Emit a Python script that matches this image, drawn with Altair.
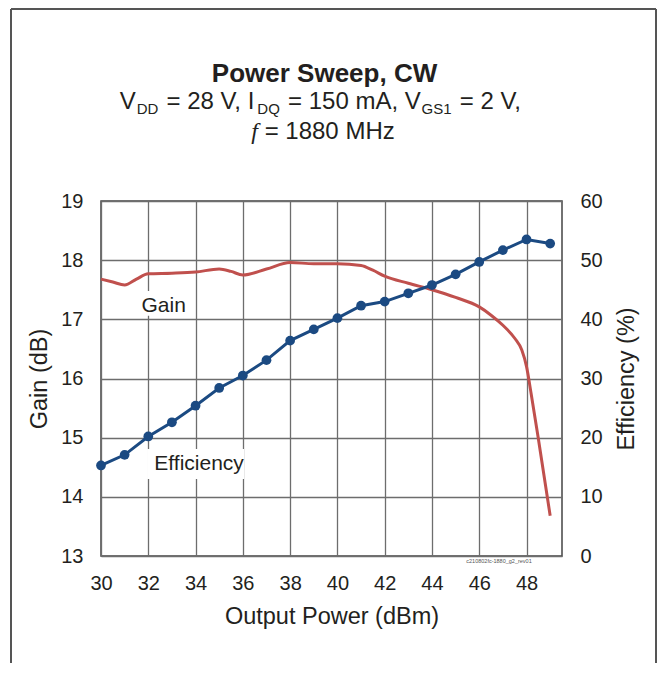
import altair as alt
import pandas as pd

# ---------------- data ----------------
power_eff = [30, 31, 32, 33, 34, 35, 36, 37, 38, 39, 40, 41, 42, 43, 44, 45, 46, 47, 48, 49]
efficiency = [15.3, 17.1, 20.2, 22.6, 25.4, 28.4, 30.5, 33.1, 36.4, 38.3, 40.2, 42.3, 43.0,
              44.4, 45.8, 47.6, 49.7, 51.7, 53.5, 52.8]

power_gain = [30, 30.5, 31, 31.5, 32, 33, 34, 35, 35.5, 36, 37, 38, 39, 40, 41, 41.5, 42, 43,
              44, 45, 46, 46.5, 47, 47.5, 47.8, 48, 48.2, 48.5, 49]
gain = [17.68, 17.63, 17.58, 17.68, 17.77, 17.78, 17.80, 17.85, 17.81, 17.75, 17.85, 17.96,
        17.94, 17.94, 17.91, 17.83, 17.73, 17.61, 17.50, 17.37, 17.21, 17.07, 16.90, 16.68,
        16.48, 16.20, 15.73, 14.98, 13.68]

x_ticks = [30, 32, 34, 36, 38, 40, 42, 44, 46, 48]
gain_ticks = [13, 14, 15, 16, 17, 18, 19]
eff_ticks = [0, 10, 20, 30, 40, 50, 60]

series_labels = ["Gain", "Efficiency"]
label_x = [32.65, 34.15]
label_gain = [17.13, 14.45]
box_x1 = [31.9, 31.95]
box_x2 = [33.4, 36.05]
box_g1 = [17.06, 14.30]
box_g2 = [17.48, 14.81]

title = "Power Sweep, CW"
subtitle_parts = [("V", "main"), ("DD", "sub"), (" = 28 V, I", "main"), ("DQ", "sub"),
                  (" = 150 mA, V", "main"), ("GS1", "sub"), (" = 2 V,", "main")]
freq_symbol = "f"
freq_text = "= 1880 MHz"
watermark = "c210802fc-1880_g2_rev01"

# ---------------- style ----------------
FONT = "Liberation Sans, Arial, Helvetica, sans-serif"
TXT = "#231f20"
RED = "#c0504d"
BLUE = "#1b4a82"
W, H = 461, 355
MAIN, SUB = 24, 15
SUB_PRE, SUB_POST = 0.8, 1.5

# Arial / Liberation Sans advance widths (1/1000 em)
AW = {'V': 667, 'D': 722, 'I': 278, 'Q': 778, 'G': 778, 'S': 667, '1': 556, '2': 556,
      '5': 556, '8': 556, '0': 556, ' ': 278, '=': 584, ',': 278, 'm': 833, 'A': 667,
      'M': 833, 'H': 722, 'z': 500}


def tw(s, size):
    return sum(AW.get(c, 556) for c in s) * size / 1000.0


def txt(s, x, y, size, align="left", **kw):
    params = dict(text=s, fontSize=size, align=align, baseline="alphabetic",
                  font=FONT, color=TXT)
    params.update(kw)
    return alt.Chart(alt.Data(values=[{}])).mark_text(**params).encode(
        x=alt.value(x), y=alt.value(y))


X = alt.X("x:Q", title="Output Power (dBm)",
          scale=alt.Scale(domain=[30, 49.5], nice=False, zero=False),
          axis=alt.Axis(values=x_ticks, grid=True, labelPadding=17, titlePadding=11,
                        labelFontSize=20, titleFontSize=23.5, labelFlush=False))

gain_df = pd.DataFrame({"x": power_gain, "gain": gain})
eff_df = pd.DataFrame({"x": power_eff, "eff": efficiency})
lab_df = pd.DataFrame({"x": label_x, "gain": label_gain, "t": series_labels})
box_df = pd.DataFrame({"x": box_x1, "x2": box_x2, "g1": box_g1, "g2": box_g2})

gscale = alt.Scale(domain=[13, 19], nice=False, zero=False)

boxes = alt.Chart(box_df).mark_rect(color="white").encode(
    x=X, x2="x2:Q",
    y=alt.Y("g1:Q", scale=gscale, axis=None), y2="g2:Q")

gain_line = alt.Chart(gain_df).mark_line(color=RED, strokeWidth=3, interpolate="monotone").encode(
    x=X,
    y=alt.Y("gain:Q", title="Gain (dB)", scale=gscale,
            axis=alt.Axis(values=gain_ticks, grid=True, labelPadding=18, titlePadding=9,
                          labelFontSize=20, titleFontSize=23.5, labelFlush=False)))

eff_line = alt.Chart(eff_df).mark_line(
    color=BLUE, strokeWidth=3,
    point=alt.OverlayMarkDef(color=BLUE, size=95, filled=True, opacity=1)).encode(
    x=X,
    y=alt.Y("eff:Q", title="Efficiency (%)",
            scale=alt.Scale(domain=[0, 60], nice=False, zero=False),
            axis=alt.Axis(values=eff_ticks, orient="right", grid=False, labelPadding=18,
                          titlePadding=12, titleAngle=270, titleBaseline="top",
                          labelFontSize=20, titleFontSize=23.5, labelFlush=False)))

labels = alt.Chart(lab_df).mark_text(fontSize=21, font=FONT, color=TXT, align="center",
                                     baseline="alphabetic").encode(
    x=X, y=alt.Y("gain:Q", scale=gscale, axis=None), text="t:N")

# title block (plot-relative pixel placement of text)
layers = [boxes, gain_line, eff_line, labels]
layers.append(txt(title, 223.5, -119, 26, align="center", fontWeight="bold"))

total = 0.0
for s, kind in subtitle_parts:
    size = MAIN if kind == "main" else SUB
    total += tw(s, size) + (SUB_PRE + SUB_POST if kind == "sub" else 0)
cx = 220.5 - total / 2
for s, kind in subtitle_parts:
    size = MAIN if kind == "main" else SUB
    lead = len(s) - len(s.lstrip(" "))
    if kind == "sub":
        cx += SUB_PRE
    y = -92 if kind == "main" else -87.5
    layers.append(txt(s.strip(" "), cx + lead * 278 * size / 1000.0, y, size))
    cx += tw(s, size) + (SUB_POST if kind == "sub" else 0)

fw = 278 * MAIN / 1000.0
w3 = fw + tw(" " + freq_text, MAIN)
x3 = 222 - w3 / 2
layers.append(txt(freq_symbol, x3, -62, MAIN, font="Liberation Serif, Times New Roman, serif",
                  fontStyle="italic"))
layers.append(txt(freq_text, x3 + fw + 278 * MAIN / 1000.0, -62, MAIN))

layers.append(txt(watermark, 398, 362, 5.5, align="center", color="#555"))

# outer frame
FR = "#555555"
one = alt.Data(values=[{}])
layers.append(alt.Chart(one).mark_rule(color=FR, strokeWidth=2).encode(
    x=alt.value(-90), y=alt.value(-192), y2=alt.value(470)))
layers.append(alt.Chart(one).mark_rule(color=FR, strokeWidth=2).encode(
    x=alt.value(555), y=alt.value(-192), y2=alt.value(470)))
layers.append(alt.Chart(one).mark_rule(color=FR, strokeWidth=2).encode(
    x=alt.value(-90), x2=alt.value(555), y=alt.value(-192)))

chart = alt.layer(*layers).resolve_scale(y="independent").properties(
    width=W, height=H,
    autosize=alt.AutoSizeParams(type="none"),
    padding={"left": 93, "top": 193, "right": 95, "bottom": 107},
    background="white",
).configure_view(stroke="#444444", strokeWidth=1.5).configure_axis(
    labelFont=FONT, titleFont=FONT, labelColor=TXT, titleColor=TXT,
    gridColor="#6d6d6d", gridWidth=1.3, gridOpacity=1, domain=False, ticks=False, tickSize=0,
    titleFontWeight="normal",
)

chart.save("out.html", embed_options={"renderer": "svg", "actions": False})
